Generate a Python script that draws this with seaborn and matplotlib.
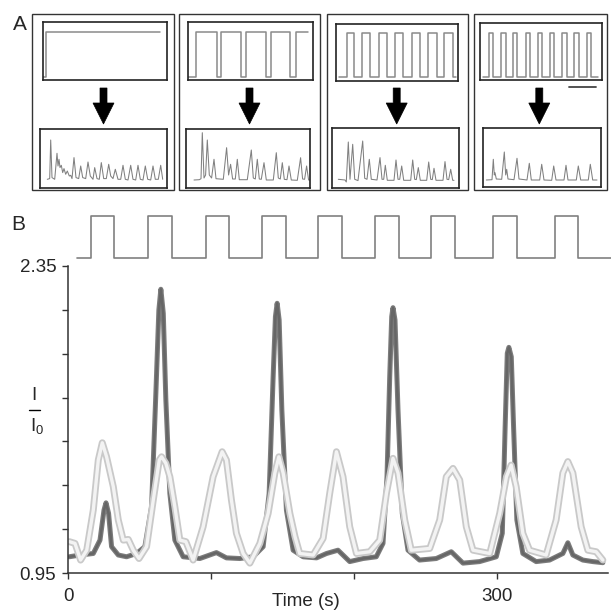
import matplotlib
matplotlib.use("Agg")
import matplotlib.pyplot as plt
import seaborn as sns
from matplotlib.patches import Rectangle, Polygon
from matplotlib.lines import Line2D

# ---------------- data: panel B ----------------
# stimulus (light on/off), time in s
stim_t = [6.5, 16.1, 32.5, 56.3, 72.7, 96.7, 112.8, 135.9, 152.4, 175.0, 191.8,
          215.2, 231.5, 254.3, 270.7, 297.7, 314.0, 341.0, 357.3, 380.5]
stim_on = [0, 1, 0, 1, 0, 1, 0, 1, 0, 1, 0, 1, 0, 1, 0, 1, 0, 1, 0, 0]

# dark trace, I/I0
dark_t = [0.9, 8.4, 17.7, 22.4, 25.2, 26.6, 28.4, 30.5, 35.2, 41.0, 48.0, 53.8,
          58.5, 61.5, 63.6, 65.0, 66.7, 68.5, 71.3, 74.8, 80.6, 92.3, 103.9, 110.9,
          120.3, 129.6, 136.6, 140.8, 143.6, 145.2, 146.4, 147.8, 149.7, 152.9,
          157.6, 164.6, 174.0, 181.0, 189.0, 197.2, 206.5, 215.8, 220.5, 223.3,
          225.2, 226.6, 227.5, 228.9, 231.0, 234.0, 238.0, 246.1, 257.8, 268.3,
          276.5, 288.1, 299.8, 304.0, 306.0, 307.5, 308.6, 310.3, 311.9, 314.2,
          318.4, 327.7, 337.1, 346.4, 349.9, 353.4, 360.4, 367.4, 374.4]
dark_v = [1.024, 1.032, 1.039, 1.10, 1.237, 1.27, 1.222, 1.07, 1.032, 1.024, 1.039,
          1.07, 1.252, 1.769, 2.149, 2.244, 2.134, 1.739, 1.313, 1.10, 1.024, 1.016,
          1.043, 1.019, 1.016, 1.024, 1.07, 1.313, 1.845, 2.119, 2.18, 2.104, 1.693,
          1.237, 1.054, 1.024, 1.019, 1.039, 1.054, 1.002, 1.016, 1.024, 1.085,
          1.389, 1.845, 2.119, 2.16, 2.104, 1.693, 1.222, 1.054, 1.009, 1.016,
          1.047, 0.995, 1.002, 1.024, 1.131, 1.617, 1.952, 1.979, 1.936, 1.617,
          1.192, 1.039, 1.002, 1.009, 1.039, 1.088, 1.032, 1.009, 1.002, 0.997]

# light trace, I/I0
light_t = [0.9, 4.9, 8.8, 13.1, 17.7, 21.2, 24.0, 27.0, 31.7, 35.2, 38.7, 42.2,
           45.7, 49.7, 55.0, 59.7, 63.9, 65.5, 68.5, 71.3, 74.8, 78.3, 82.5, 87.6,
           94.6, 101.6, 107.9, 110.9, 114.4, 117.9, 122.6, 127.3, 134.3, 140.1,
           144.8, 147.6, 150.6, 155.3, 158.9, 162.2, 171.6, 178.6, 183.2, 187.9,
           192.5, 197.2, 201.9, 211.2, 218.2, 222.9, 227.5, 231.0, 235.7, 240.3,
           253.2, 260.2, 264.8, 269.5, 274.2, 278.8, 283.5, 295.2, 302.2, 306.9,
           310.2, 313.7, 318.4, 323.1, 334.7, 341.7, 346.4, 349.9, 353.4, 359.2,
           363.9, 369.7, 374.4]
light_v = [1.093, 1.085, 1.009, 1.054, 1.237, 1.465, 1.544, 1.48, 1.344, 1.192,
           1.10, 1.103, 1.054, 1.016, 1.07, 1.283, 1.465, 1.48, 1.45, 1.389, 1.252,
           1.10, 1.093, 1.009, 1.161, 1.389, 1.503, 1.465, 1.283, 1.131, 1.039,
           0.995, 1.085, 1.222, 1.406, 1.48, 1.406, 1.222, 1.116, 1.039, 1.032,
           1.108, 1.313, 1.503, 1.389, 1.161, 1.039, 1.047, 1.10, 1.313, 1.473,
           1.406, 1.192, 1.054, 1.062, 1.192, 1.389, 1.427, 1.374, 1.161, 1.054,
           1.039, 1.222, 1.389, 1.442, 1.344, 1.131, 1.054, 1.032, 1.192, 1.406,
           1.458, 1.406, 1.161, 1.054, 1.047, 1.009]

y_ticks = [0.95, 1.15, 1.35, 1.55, 1.75, 1.95, 2.15, 2.35]
y_ticklabels = ["0.95", "", "", "", "", "", "", "2.35"]
x_ticks = [0, 100, 200, 300]
x_ticklabels = ["0", "", "", "300"]

# ---------------- data: panel A ----------------
# stimulus protocols (arbitrary time units, on/off)
protoA1_t = [0, 3.3, 117]
protoA1_on = [0, 1, 1]
protoA2_t = [0.3, 8, 28.7, 33, 53, 58, 77.7, 82.7, 102, 108, 120.3]
protoA2_on = [0, 1, 0, 1, 0, 1, 0, 1, 0, 1, 1]
protoA3_t = [3.3, 10.7, 18, 26.3, 34, 43, 50.7, 59, 67.3, 75.7, 84, 92.3, 100.7,
             108, 116.7, 120]
protoA3_on = [0, 1, 0, 1, 0, 1, 0, 1, 0, 1, 0, 1, 0, 1, 0, 0]
protoA4_t = [2.7, 9.3, 13.3, 21, 25.7, 33.3, 37.3, 45.7, 50, 57.7, 62.3, 70, 74.3,
             82.3, 86.7, 94.3, 98.7, 106.7, 111, 118.3]
protoA4_on = [0, 1, 0, 1, 0, 1, 0, 1, 0, 1, 0, 1, 0, 1, 0, 1, 0, 1, 0, 0]

# responses (arbitrary units)
respA1_t = [7.3, 9.7, 10.7, 12, 14.7, 17, 18, 19, 20, 21.3, 22.7, 24, 25.7, 27.3,
            29.3, 30.7, 32, 34, 36, 38.7, 40.7, 42.7, 45.7, 48, 50.3, 53, 54.7, 57,
            59.3, 61.3, 63.7, 66.3, 68.7, 70.7, 73, 75.3, 78, 80.7, 83, 85.3, 88,
            90.7, 93, 95.7, 98, 100.3, 103, 105.3, 107.7, 110.7, 113, 115.3, 118.3,
            120.7, 122.7]
respA1_v = [0, 0.7, 39.3, 1.7, 0, 26, 13.3, 20, 11.7, 14, 6.7, 10.7, 5, 8.3, 3.3,
            4, 0.7, 21.7, 1.7, 0.7, 13.3, 1.7, 0.7, 17.3, 3.3, 0, 11.7, 0.7, 0,
            16.7, 0.7, 0.7, 15, 3.3, 0.7, 10, 0, 0, 14, 0, -0.7, 14, 0, -0.7, 14,
            0, -0.7, 13.3, 0, -0.7, 13.3, 0, 0, 14, 0]
respA2_t = [6.7, 12, 13.7, 15, 16.7, 18.3, 20, 22, 24.3, 26.7, 28.7, 36, 39.3, 41.3,
            43.3, 45.3, 48, 50, 52, 60, 64, 66, 68, 70, 72, 74, 76.7, 79, 86, 89,
            91, 93, 95, 97, 99.7, 101.7, 104, 110, 113.3, 115.3, 117.3, 119.3,
            121.3, 123]
respA2_v = [0, 0.3, 1.3, 47.3, 2, 5, 40, 5, 2, 20.7, 1.3, 0.7, 32.3, 5, 15.7, 1, 1,
            20.7, 0.3, 0.3, 30, 2, 1, 20.7, 1, 0.7, 17.3, 0, 0, 27.3, 2, 1, 17.3,
            0.7, 0.3, 14, 0, -0.3, 22.3, 1, 0.7, 14, 0, 0]
respA3_t = [6.3, 13, 14.3, 16.3, 18, 20.7, 22.7, 26, 30.7, 32.7, 35, 37.3, 39.3, 45,
            48, 50, 51.7, 53.3, 55.3, 62, 64, 66, 67.7, 69.7, 71.7, 78.7, 80.7,
            82.7, 84.3, 86.3, 88.3, 94.7, 96.7, 98.7, 100.3, 102, 104, 111, 113,
            115, 116.7, 118.7, 120.7, 122]
respA3_v = [1, 0.3, -1.7, 38.3, 1, 36, 1, -0.3, 39.3, 2, 1, 21, 1, 0.3, 22.7, 1, 1,
            15, 0, 0, 20.3, 1, 1, 14.3, 0, 0, 20.3, 1, 0.7, 12.7, 0, 0, 18.3, 1,
            0.7, 12, 0, 0, 18.7, 1, 0.7, 11, 0, 0]
respA4_t = [3.3, 9, 10.3, 11.3, 12, 13.3, 18.7, 21.3, 22.7, 23.7, 25, 31, 34, 36,
            44, 46.3, 48.3, 56.7, 58.7, 61, 68.7, 70.7, 73, 81, 83, 85, 93.3, 95.3,
            97.7, 105.3, 107.3, 109.7, 114]
respA4_v = [0, 0.3, 20.7, 5, 7.3, 1, 0.7, 28, 5, 10.7, 1, 0.3, 21.7, 1, 0, 16.7, 0,
            0, 15.7, 0, -0.3, 14, 0, 0, 14.7, 0, 0, 14, 0, 0, 15.7, 0, 0]

W, H = 611, 611
sns.set_style("ticks")
plt.rcParams["font.family"] = ["Liberation Sans", "DejaVu Sans"]
plt.rcParams["mathtext.fontset"] = "custom"
plt.rcParams["mathtext.rm"] = "Liberation Sans"

fig = plt.figure(figsize=(W / 100, H / 100), dpi=100)


def px_axes(x0, y0, x1, y1):
    # axes placed by pixel box (top-left origin)
    return fig.add_axes([x0 / W, 1 - y1 / H, (x1 - x0) / W, (y1 - y0) / H])


# overlay for frames, arrows and letters
ov = fig.add_axes([0, 0, 1, 1], zorder=-1)
ov.set_xlim(0, W)
ov.set_ylim(H, 0)
ov.axis("off")

outer = [(32, 14, 174, 190), (179, 14, 320, 190), (327, 14, 468, 190), (474, 14, 607, 190)]
for x0, y0, x1, y1 in outer:
    ov.add_patch(Rectangle((x0, y0), x1 - x0, y1 - y0, fill=False, ec="#333333", lw=1.0))

arrow_cx = [103.5, 249.5, 396.7, 539.3]
for cx in arrow_cx:
    ov.add_patch(Polygon([(cx - 3.5, 88), (cx + 3.5, 88), (cx + 3.5, 103), (cx + 10.5, 103),
                          (cx, 124), (cx - 10.5, 103), (cx - 3.5, 103)],
                         closed=True, fc="black", ec="black", lw=0.5))

# scale bar
ov.add_line(Line2D([569, 596], [87, 87], color="#444444", lw=1.3))

fig.text(13 / W, 1 - 24 / H, "A", fontsize=15, va="center", ha="left")
fig.text(11 / W, 1 - 224 / H, "B", fontsize=15, va="center", ha="left")

top_boxes = [(43, 22, 167, 80), (188, 22, 313, 80), (336, 24, 458, 81), (480, 23, 602, 80)]
top_ylims = [(-0.06, 1.229), (-0.06, 1.229), (-0.084, 1.211), (-0.061, 1.234)]
protos = [(protoA1_t, protoA1_on), (protoA2_t, protoA2_on),
          (protoA3_t, protoA3_on), (protoA4_t, protoA4_on)]
for (x0, y0, x1, y1), yl, (pt, pon) in zip(top_boxes, top_ylims, protos):
    a = px_axes(x0, y0, x1, y1)
    sns.lineplot(x=pt, y=pon, ax=a, color="#8a8a8a", lw=1.1, drawstyle="steps-post",
                 sort=False, estimator=None)
    a.set_xlim(0, x1 - x0)
    a.set_ylim(*yl)
    a.set_xticks([])
    a.set_yticks([])
    a.set_xlabel("")
    a.set_ylabel("")
    for s in a.spines.values():
        s.set_visible(True)
        s.set_color("#222222")
        s.set_linewidth(1.2)

bot_boxes = [(40, 129, 167, 188), (186, 129, 310, 188), (332, 128, 459, 188), (483, 128, 601, 187)]
bot_xoff = [0, -1.3, 0, 0]
bot_base = [8.7, 8.0, 7.7, 7.0]
resps = [(respA1_t, respA1_v), (respA2_t, respA2_v),
         (respA3_t, respA3_v), (respA4_t, respA4_v)]
for (x0, y0, x1, y1), xo, b, (rt, rv) in zip(bot_boxes, bot_xoff, bot_base, resps):
    a = px_axes(x0, y0, x1, y1)
    sns.lineplot(x=rt, y=rv, ax=a, color="#808080", lw=0.75, sort=False, estimator=None)
    a.set_xlim(xo, xo + (x1 - x0))
    a.set_ylim(-b, (y1 - y0) - b)
    a.set_xticks([])
    a.set_yticks([])
    a.set_xlabel("")
    a.set_ylabel("")
    for s in a.spines.values():
        s.set_visible(True)
        s.set_color("#222222")
        s.set_linewidth(1.2)

# ---------------- panel B ----------------
ax_stim = px_axes(68, 208, 611, 264)
sns.lineplot(x=stim_t, y=stim_on, ax=ax_stim, color="#808080", lw=1.2,
             drawstyle="steps-post", sort=False, estimator=None)
ax_stim.set_xlim(0, (611 - 68) / 1.4286)
ax_stim.set_ylim(-6 / 42, 1 + 8 / 42)
ax_stim.axis("off")

ax = px_axes(68, 266, 608, 573)
sns.lineplot(x=dark_t, y=dark_v, ax=ax, color="#7c7c7c", lw=3.6, sort=False, estimator=None)
sns.lineplot(x=dark_t, y=dark_v, ax=ax, color="#666666", lw=1.8, sort=False, estimator=None)
sns.lineplot(x=light_t, y=light_v, ax=ax, color="#c9c9c9", lw=5.0, sort=False, estimator=None)
sns.lineplot(x=light_t, y=light_v, ax=ax, color="#f3f3f3", lw=2.4, sort=False, estimator=None)
ax.set_xlim(0, 378)
ax.set_ylim(0.95, 2.35)
ax.set_yticks(y_ticks)
ax.set_yticklabels(y_ticklabels)
ax.set_xticks(x_ticks)
ax.set_xticklabels(x_ticklabels)
ax.set_xlabel("")
ax.set_ylabel("")
sns.despine(ax=ax)
for s in ("left", "bottom"):
    ax.spines[s].set_color("#333333")
    ax.spines[s].set_linewidth(1.1)
ax.tick_params(axis="both", length=4.5, width=1.0, color="#333333", labelsize=13.5, pad=4)
ax.tick_params(axis="x", pad=6)

fig.text(306 / W, 1 - 601 / H, "Time (s)", fontsize=13.5, ha="center", va="center")
# y label: I over I0
fig.text(34 / W, 1 - 395 / H, "I", fontsize=13.5, ha="center", va="center")
ov.add_line(Line2D([29, 40], [410, 410], color="black", lw=1.0))
fig.text(37 / W, 1 - 426 / H, r"$\mathregular{I_0}$", fontsize=13.5, ha="center", va="center")

fig.savefig("out.png", dpi=100)
